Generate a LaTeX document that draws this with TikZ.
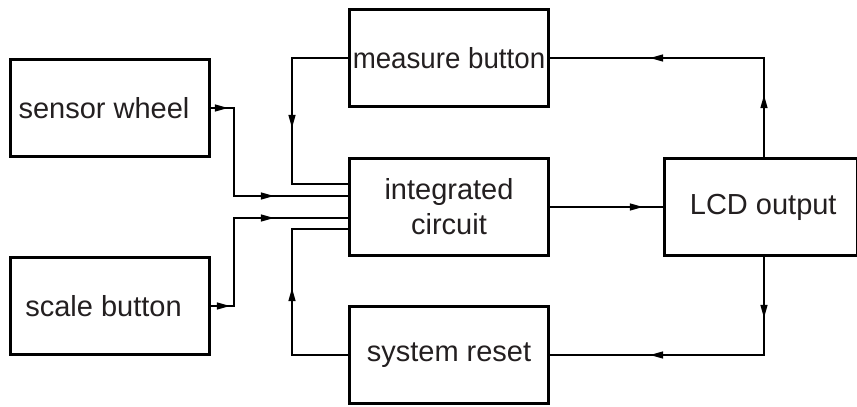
\documentclass[tikz,border=0pt]{standalone}
\usepackage{fontspec}
\setmainfont{Liberation Sans}
\usetikzlibrary{arrows.meta,decorations.markings}
\definecolor{ink}{HTML}{231F20}
\tikzset{
  tipA/.tip={Triangle[length=13pt,width=7pt]},
  box/.style={draw=black, line width=2.8pt, fill=white, inner sep=0pt,
    minimum width=199pt, minimum height=97pt, text=ink,
    font=\fontsize{29}{35}\selectfont, align=center},
  conn/.style={draw=black, line width=1.3pt},
  am/.style={postaction={decorate,decoration={markings,
    mark=at position #1 with {\arrow{tipA}}}}}
}
\begin{document}
\begin{tikzpicture}[x=1pt,y=-1pt]
\useasboundingbox (0,0) rectangle (857,407);
% boxes
\node[box] (sw) at (110,108) {sensor wheel\hspace*{12pt}};
\node[box] (sb) at (110,306) {scale button\hspace*{13pt}};
\node[box] (mb) at (449,58) {\scalebox{0.955}[1]{measure button}};
\node[box] (ic) at (449,207) {integrated\\circuit};
\node[box] (sr) at (449,355) {system reset};
\node[box, minimum width=192.5pt] (lcd) at (760.75,207) {\hspace*{5pt}LCD output};
% junction columns
\coordinate (jL) at (234,0);
\coordinate (jM) at (292,0);
\coordinate (jR) at (764,0);
% inputs to integrated circuit
\draw[conn, am=17pt, am=151pt] (sw.east) -- (sw.east -| jL) |- (ic.west |- 0,196);
\draw[conn, am=19pt, am=151pt] (sb.east) -- (sb.east -| jL) |- (ic.west |- 0,218);
\draw[conn, am=126pt] (mb.west) -- (mb.west -| jM) |- (ic.west |- 0,184);
\draw[conn, am=123pt] (sr.west) -- (sr.west -| jM) |- (ic.west |- 0,229);
% output
\draw[conn, am=93pt] (ic.east) -- (lcd.west);
\draw[conn, am=62pt, am=213pt] (lcd.north -| jR) |- (mb.east);
\draw[conn, am=61pt, am=212pt] (lcd.south -| jR) |- (sr.east);
\end{tikzpicture}
\end{document}
